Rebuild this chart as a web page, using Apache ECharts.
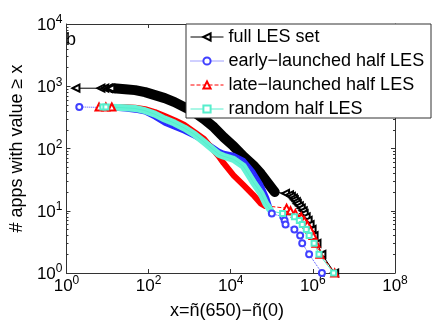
<!DOCTYPE html>
<html>
<head>
<meta charset="utf-8">
<script src="https://cdn.jsdelivr.net/npm/echarts@6/dist/echarts.min.js"></script>
<style>
  html, body { margin: 0; padding: 0; background: #fff; }
  #chart { width: 436px; height: 323px; }
</style>
</head>
<body>
<div id="chart"></div>
<script>
  // [x, # apps with value >= x]
  const fullLead = [[1.7, 930], [6.9, 930], [8.6, 929], [10.5, 928], [12, 927]]
  const fullBand = [[14, 925], [27, 898], [47, 866], [82, 804], [142, 720], [247, 644], [428, 556], [743, 462],
    [1290, 384], [2235, 297], [3880, 220], [6730, 152], [11700, 109], [20200, 75], [35100, 54], [54600, 39],
    [80200, 28], [105700, 22], [118000, 20]]
  const fullTail = [[216000, 19], [270000, 18], [300000, 17], [336000, 16], [355000, 15], [396000, 14], [419000, 13],
    [468000, 12], [522000, 11], [583000, 10], [615000, 9], [687000, 8], [768000, 7], [857000, 6], [957000, 5],
    [1070000, 4], [1260000, 3], [1660000, 2], [3400000, 1]]

  const earlyLead = [[2.05, 465]]
  const earlyBand = [[9.1, 455], [27, 429], [47, 413], [82, 384], [142, 319], [247, 256], [428, 220], [743, 190],
    [1290, 158], [2235, 131], [5100, 91], [6730, 84], [11700, 78], [20200, 65], [35100, 42], [54600, 26],
    [75900, 16], [94600, 10]]
  const earlyTail = [[100000, 9], [190000, 8], [205000, 7], [216000, 6], [355000, 5], [490000, 4], [550000, 3],
    [810000, 2], [1660000, 1]]

  const lateLead = [[6.2, 465], [9.1, 464], [12.7, 463]]
  const lateBand = [[15.7, 462], [27, 460], [47, 452], [82, 429], [142, 385], [247, 331], [428, 285], [743, 238],
    [1290, 185], [2235, 142], [3290, 105], [5100, 75], [6730, 58], [11700, 37], [20200, 26], [35100, 18],
    [54600, 13], [68000, 12]]
  const lateTail = [[229000, 11], [285000, 10], [375000, 9], [520000, 8], [615000, 7], [730000, 6], [860000, 5],
    [1010000, 4], [1190000, 3], [1490000, 2], [3400000, 1]]

  const randLead = [[7.7, 465], [9.1, 464]]
  const randBand = [[12, 462], [27, 450], [47, 440], [82, 405], [142, 356], [247, 297], [428, 256], [743, 213],
    [1290, 170], [2235, 127], [5100, 81], [6730, 75], [11700, 67], [20200, 52], [35100, 29], [54600, 19],
    [71800, 13], [94600, 10]]
  const randTail = [[183000, 9], [355000, 8], [468000, 7], [550000, 6], [690000, 5], [810000, 4], [1070000, 3],
    [1410000, 2], [3200000, 1]]

  const names = ['full LES set', 'early\u2212launched half LES', 'late\u2212launched half LES', 'random half LES']
  const colors = ['#000', '#4040ff', '#ff0000', '#55eecc']

  const FONT = 'Liberation Sans, Arial, Helvetica, sans-serif'
  const AX = '#333'

  function powLabel(v) {
    let e = Math.round(Math.log(v) / Math.LN10)
    return '{b|10}{s|' + e + '}'
  }
  const powRich = {
    b: { fontSize: 17, fontFamily: FONT, color: '#000', lineHeight: 20, verticalAlign: 'bottom' },
    s: { fontSize: 12, fontFamily: FONT, color: '#000', lineHeight: 12, verticalAlign: 'top' }
  }

  // dense middle part: no separate markers, the thick band line stands in for them
  function points(lead, band, tail) {
    return lead.concat(band.map(p => ({ value: p, symbol: 'none' })), tail)
  }

  function mainSeries(name, data, color, symbol, rotate, size, lineType) {
    return {
      name: name,
      type: 'line',
      data: data,
      symbol: symbol,
      symbolSize: size,
      symbolRotate: rotate,
      showAllSymbol: true,
      itemStyle: { color: color, borderColor: color, borderWidth: 1 },
      lineStyle: { color: color, width: 1, type: lineType },
      animation: false
    }
  }
  function bandSeries(data, color, width) {
    return {
      name: '_band',
      type: 'line',
      data: data,
      symbol: 'none',
      silent: true,
      lineStyle: { color: color, width: width, cap: 'round', join: 'round' },
      animation: false
    }
  }

  let myChart = echarts.init(document.getElementById('chart'))
  let logX = { type: 'log', logBase: 10, min: 1, max: 1e8, interval: 2 }
  let logY = { type: 'log', logBase: 10, min: 1, max: 1e4, interval: 1 }
  let tick = { inside: true, length: 4, lineStyle: { color: AX } }
  let option = {
    backgroundColor: '#fff',
    grid: { left: 60, right: 41, top: 24, bottom: 50 },
    xAxis: [
      Object.assign({}, logX, {
        position: 'bottom',
        axisLine: { lineStyle: { color: AX } },
        axisTick: tick,
        axisLabel: { formatter: powLabel, rich: powRich, margin: 2 },
        splitLine: { show: false }
      }),
      Object.assign({}, logX, {
        position: 'top',
        axisLine: { lineStyle: { color: AX } },
        axisTick: tick,
        axisLabel: { show: false },
        splitLine: { show: false }
      })
    ],
    yAxis: [
      Object.assign({}, logY, {
        position: 'left',
        name: '# apps with value \u2265 x',
        nameLocation: 'middle',
        nameGap: 35,
        nameTextStyle: { fontSize: 18, fontFamily: FONT, color: '#000' },
        axisLine: { lineStyle: { color: AX } },
        axisTick: tick,
        minorTick: { show: true, splitNumber: 9, length: 2, lineStyle: { color: AX } },
        axisLabel: { formatter: powLabel, rich: powRich, margin: 4 },
        splitLine: { show: false }
      }),
      Object.assign({}, logY, {
        position: 'right',
        axisLine: { lineStyle: { color: AX } },
        axisTick: tick,
        minorTick: { show: true, splitNumber: 9, length: 2, lineStyle: { color: AX } },
        axisLabel: { show: false },
        splitLine: { show: false }
      })
    ],
    legend: {
      data: names,
      orient: 'vertical',
      left: 190,
      top: 28,
      z: 20,
      itemWidth: 33,
      itemHeight: 9,
      itemGap: 6,
      padding: 0,
      lineStyle: { width: 1 },
      textStyle: { fontSize: 18, fontFamily: FONT, color: '#000', lineHeight: 15 }
    },
    graphic: [
      {
        type: 'rect',
        z: 10,
        shape: { x: 186, y: 24, width: 245, height: 94 },
        style: { fill: '#fff', stroke: '#333', lineWidth: 1 }
      },
      {
        type: 'text',
        z: 10,
        left: 66,
        top: 31,
        style: { text: 'b', fontSize: 18, fontFamily: FONT, fill: '#000' }
      },
      {
        type: 'text',
        z: 10,
        x: 227,
        y: 302,
        style: { text: 'x=\u00f1(650)\u2212\u00f1(0)', fontSize: 18, fontFamily: FONT, fill: '#000', align: 'center' }
      }
    ],
    series: [
      bandSeries(fullBand, colors[0], 10),
      mainSeries(names[0], points(fullLead, fullBand, fullTail), colors[0], 'emptyTriangle', 90, 7, 'solid'),
      bandSeries(earlyBand, '#2a2aff', 5),
      mainSeries(names[1], points(earlyLead, earlyBand, earlyTail), colors[1], 'emptyCircle', 0, 6, 'dotted'),
      bandSeries(lateBand, '#ff0000', 6),
      mainSeries(names[2], points(lateLead, lateBand, lateTail), colors[2], 'emptyTriangle', 0, 7, 'dashed'),
      bandSeries(randBand, '#66f2d6', 7),
      mainSeries(names[3], points(randLead, randBand, randTail), colors[3], 'emptyRect', 0, 5, 'solid')
    ]
  }
  myChart.setOption(option)
</script>
</body>
</html>
